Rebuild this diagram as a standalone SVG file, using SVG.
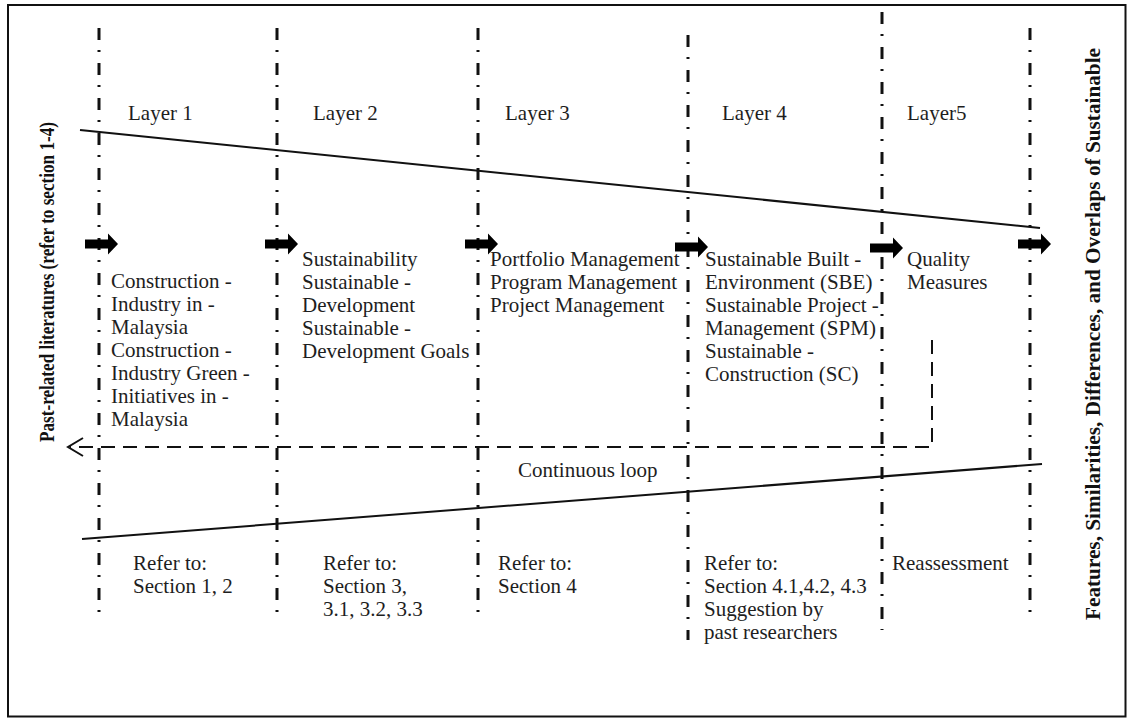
<svg xmlns="http://www.w3.org/2000/svg" width="1127" height="718" viewBox="0 0 1127 718">
<style>
.t{font-family:'Liberation Serif',serif;font-size:21px;fill:#1e1e1e}
.b{font-family:'Liberation Serif',serif;font-size:22px;font-weight:bold;fill:#111}
.dd{stroke:#111;stroke-width:3;stroke-dasharray:12 10 2 11;fill:none}
.ln{stroke:#111;stroke-width:2;fill:none}
.dash{stroke:#111;stroke-width:2;stroke-dasharray:14 8;fill:none}
.ar{fill:#000}
</style>
<defs>
<path id="ba" d="M0,-4.5 L23,-4.5 L23,-10.5 L33,0 L23,10.5 L23,4.5 L0,4.5 Z"/>
</defs>
<rect x="8" y="5" width="1117.5" height="711.5" fill="#fff" stroke="#111" stroke-width="2"/>

<g id="dividers">
<line class="dd" x1="99" y1="28" x2="99" y2="620"/>
<line class="dd" x1="277" y1="28" x2="277" y2="620"/>
<line class="dd" x1="478" y1="28" x2="478" y2="622"/>
<line class="dd" x1="688" y1="35" x2="688" y2="640"/>
<line class="dd" x1="882" y1="12" x2="882" y2="630"/>
<line class="dd" x1="1030" y1="28" x2="1030" y2="623"/>
</g>

<g id="connectors">
<line class="ln" x1="80" y1="130" x2="1040" y2="228"/>
<line class="ln" x1="82" y1="539" x2="1042" y2="464"/>
<path class="dash" d="M932,340 V447 H70"/>
<path class="ln" d="M83,438 L68,447 L83,456"/>
<use href="#ba" class="ar" x="85" y="244"/>
<use href="#ba" class="ar" x="265" y="244"/>
<use href="#ba" class="ar" x="465" y="244"/>
<use href="#ba" class="ar" x="675" y="247"/>
<use href="#ba" class="ar" x="870" y="248"/>
<use href="#ba" class="ar" x="1018" y="244"/>
</g>

<g id="layer1">
<text class="t" x="128" y="120">Layer 1</text>
<text class="t" x="111" y="288">Construction -</text>
<text class="t" x="111" y="311">Industry in -</text>
<text class="t" x="111" y="334">Malaysia</text>
<text class="t" x="111" y="357">Construction -</text>
<text class="t" x="111" y="380">Industry Green -</text>
<text class="t" x="111" y="403">Initiatives in -</text>
<text class="t" x="111" y="426">Malaysia</text>
<text class="t" x="133" y="570">Refer to:</text>
<text class="t" x="133" y="593">Section 1, 2</text>
</g>

<g id="layer2">
<text class="t" x="313" y="120">Layer 2</text>
<text class="t" x="302" y="266">Sustainability</text>
<text class="t" x="302" y="289">Sustainable -</text>
<text class="t" x="302" y="312">Development</text>
<text class="t" x="302" y="335">Sustainable -</text>
<text class="t" x="302" y="358">Development Goals</text>
<text class="t" x="323" y="570">Refer to:</text>
<text class="t" x="323" y="593">Section 3,</text>
<text class="t" x="323" y="616">3.1, 3.2, 3.3</text>
</g>

<g id="layer3">
<text class="t" x="505" y="120">Layer 3</text>
<text class="t" x="490" y="266">Portfolio Management</text>
<text class="t" x="490" y="289">Program Management</text>
<text class="t" x="490" y="312">Project Management</text>
<text class="t" x="498" y="570">Refer to:</text>
<text class="t" x="498" y="593">Section 4</text>
</g>

<g id="layer4">
<text class="t" x="722" y="120">Layer 4</text>
<text class="t" x="705" y="266">Sustainable Built -</text>
<text class="t" x="705" y="289">Environment (SBE)</text>
<text class="t" x="705" y="312">Sustainable Project -</text>
<text class="t" x="705" y="335">Management (SPM)</text>
<text class="t" x="705" y="358">Sustainable -</text>
<text class="t" x="705" y="381">Construction (SC)</text>
<text class="t" x="704" y="570">Refer to:</text>
<text class="t" x="704" y="593">Section 4.1,4.2, 4.3</text>
<text class="t" x="704" y="616">Suggestion by</text>
<text class="t" x="704" y="639">past researchers</text>
</g>

<g id="layer5">
<text class="t" x="907" y="120">Layer5</text>
<text class="t" x="907" y="266">Quality</text>
<text class="t" x="907" y="289">Measures</text>
<text class="t" x="892" y="570">Reassessment</text>
</g>

<g id="loop-label">
<text class="t" x="518" y="477">Continuous loop</text>
</g>

<g id="input">
<text class="b" transform="translate(54,282) rotate(-90)" text-anchor="middle" textLength="320" lengthAdjust="spacingAndGlyphs">Past-related literatures (refer to section 1-4)</text>
</g>

<g id="output">
<text class="b" transform="translate(1100,334) rotate(-90)" text-anchor="middle" textLength="572" lengthAdjust="spacingAndGlyphs">Features, Similarities, Differences, and Overlaps of Sustainable</text>
</g>
</svg>
